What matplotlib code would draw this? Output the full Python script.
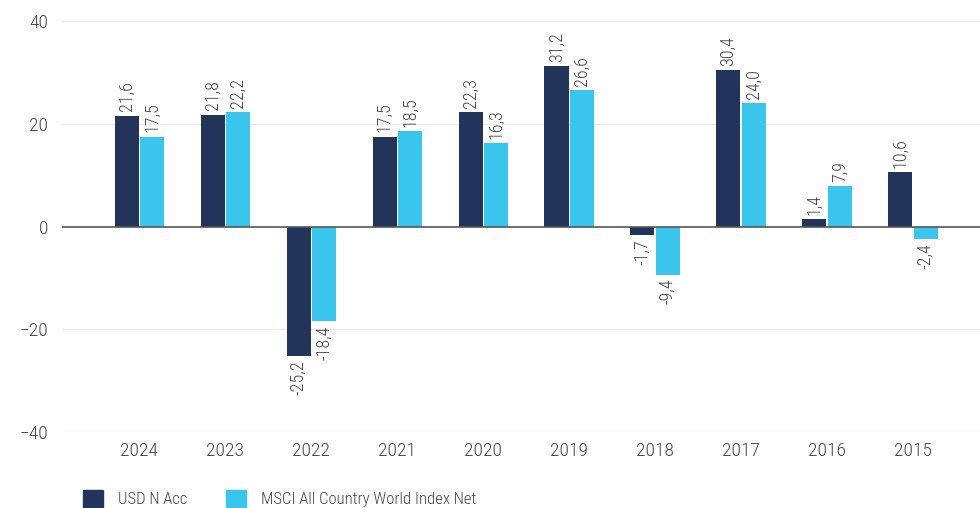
import matplotlib
matplotlib.use("Agg")
import matplotlib.pyplot as plt
from matplotlib.patches import Rectangle

years = ["2024", "2023", "2022", "2021", "2020", "2019", "2018", "2017", "2016", "2015"]
fund = [21.6, 21.8, -25.2, 17.5, 22.3, 31.2, -1.7, 30.4, 1.4, 10.6]
index = [17.5, 22.2, -18.4, 18.5, 16.3, 26.6, -9.4, 24.0, 7.9, -2.4]
series_names = ["USD N Acc", "MSCI All Country World Index Net"]
colors = ["#22345a", "#3ac5ec"]

plt.rcParams["font.family"] = ["Roboto Condensed", "DejaVu Sans"]
plt.rcParams["font.weight"] = 300

fig = plt.figure(figsize=(9.8, 5.08), dpi=100)
ax = fig.add_axes([62/980, 1 - 432/508, (980-62)/980, (432-21)/508])
ax.set_ylim(-40, 40)
ax.set_xlim(-0.9, 9.78)

w = 0.28
off = 0.147
xs = range(len(years))
for i, (a, b) in enumerate(zip(fund, index)):
    for v, dx, c in ((a, -off, colors[0]), (b, off, colors[1])):
        ax.bar(i + dx, v, width=w, color=c, zorder=3, linewidth=0)
        txt = f"{v:.1f}".replace(".", ",")
        if v >= 0:
            ax.annotate(txt, (i + dx, v), xytext=(0, 3), textcoords="offset points",
                        rotation=90, ha="center", va="bottom", fontsize=13, color="#444444")
        else:
            ax.annotate(txt, (i + dx, v), xytext=(0, -3), textcoords="offset points",
                        rotation=90, ha="center", va="top", fontsize=13, color="#444444")

ax.set_yticks([-40, -20, 0, 20, 40])
ax.set_yticklabels(["\u221240", "\u221220", "0", "20", "40"])
ax.set_xticks(list(xs))
ax.set_xticklabels(years)
ax.tick_params(axis="both", length=0, labelsize=14, colors="#444444")
ax.tick_params(axis="y", pad=10)
ax.tick_params(axis="x", pad=7)
for y in [-40, -20, 20, 40]:
    ax.axhline(y, color="#eeeeee", lw=1, zorder=1)
ax.axhline(0, color="#555555", lw=1.2, zorder=4)
for s in ax.spines.values():
    s.set_visible(False)

handles = [Rectangle((0, 0), 1, 1, color=c) for c in colors]
fig.legend(handles, series_names, loc="lower left", bbox_to_anchor=(68/980, -0.027),
           ncol=2, frameon=False, fontsize=12, handlelength=1.2, handleheight=1.2,
           columnspacing=2.3, handletextpad=0.9, labelcolor="#444444")

fig.savefig("out.png", dpi=100)
